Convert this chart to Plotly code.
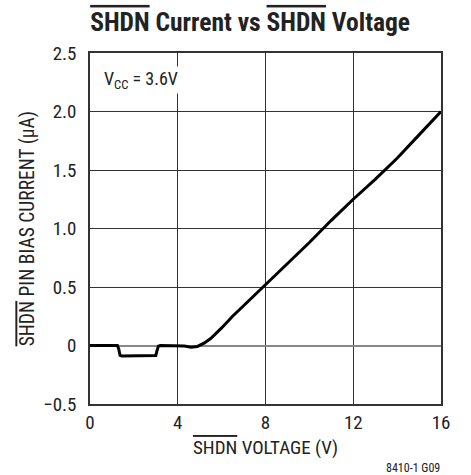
import plotly.graph_objects as go

voltage = [0, 1.25, 1.31, 1.37, 1.45, 2.9, 3.0, 3.06, 3.12, 3.2, 4.0, 4.3, 4.6, 4.9, 5.2, 5.5, 6.0, 6.5, 7.0, 8.0, 9.0, 10.0, 11.0, 12.0, 13.0, 14.0, 15.0, 16.0]
current = [0, 0, -0.03, -0.085, -0.09, -0.09, -0.085, -0.04, -0.005, 0, 0, -0.005, -0.015, -0.008, 0.02, 0.06, 0.15, 0.25, 0.34, 0.52, 0.7, 0.88, 1.07, 1.25, 1.42, 1.6, 1.8, 2.0]

x_ticks = [0, 4, 8, 12, 16]
x_ticktext = ["0", "4", "8", "12", "16"]
y_ticks = [-0.5, 0, 0.5, 1.0, 1.5, 2.0, 2.5]
y_ticktext = ["\u22120.5", "0", "0.5", "1.0", "1.5", "2.0", "2.5"]

FONT = "Roboto Condensed, Liberation Sans Narrow, sans-serif"
OL = '<span style="text-decoration:overline">SHDN</span>'

fig = go.Figure()
fig.add_trace(go.Scatter(x=voltage, y=current, mode="lines",
                         line=dict(color="black", width=3), showlegend=False,
                         hoverinfo="skip"))

fig.update_layout(
    width=471, height=475,
    margin=dict(l=90, r=30, t=53, b=71),
    paper_bgcolor="white", plot_bgcolor="white",
    hovermode=False,
    font=dict(family=FONT, size=19, color="#222"),
    title=dict(text="<b>" + OL + " Current vs " + OL + " Voltage</b>",
               x=0.531, xanchor="center", y=0.9537, yanchor="middle",
               font=dict(family=FONT, size=25.5, color="#222")),
    xaxis=dict(range=[0, 16], tickvals=x_ticks, ticktext=x_ticktext,
               showgrid=True, gridcolor="#333", gridwidth=1,
               showline=True, linecolor="#333", linewidth=1.5, mirror=True,
               zeroline=False, ticks="", automargin=False,
               ticklabelstandoff=0, tickfont=dict(size=19)),
    yaxis=dict(range=[-0.5, 2.5], tickvals=y_ticks, ticktext=y_ticktext,
               showgrid=True, gridcolor="#333", gridwidth=1,
               showline=True, linecolor="#333", linewidth=1.5, mirror=True,
               zeroline=True, zerolinecolor="#888", zerolinewidth=2, ticks="",
               automargin=False, ticklabelstandoff=8, tickfont=dict(size=19)),
)

# axis titles
fig.add_annotation(x=0.5, y=-0.125, xref="paper", yref="paper",
                   xanchor="center", yanchor="middle",
                   text=OL + " VOLTAGE (V)", showarrow=False,
                   font=dict(family=FONT, size=19, color="#222"))
fig.add_annotation(x=-0.177, y=0.5, xref="paper", yref="paper",
                   xanchor="center", yanchor="middle",
                   text=OL + " PIN BIAS CURRENT (\u00b5A)", showarrow=False,
                   textangle=-90,
                   font=dict(family=FONT, size=19.5, color="#222"))

fig.add_annotation(x=0.035, y=0.962, xref="paper", yref="paper",
                   text="V<sub>CC</sub> = 3.6V", showarrow=False,
                   xanchor="left", yanchor="top", bgcolor="white",
                   font=dict(family=FONT, size=18, color="#222"))
fig.add_annotation(x=1.003, y=-0.182, xref="paper", yref="paper",
                   text="8410-1 G09", showarrow=False,
                   xanchor="right", yanchor="middle",
                   font=dict(family=FONT, size=12, color="#222"))

fig.write_html("out.html", config={"displayModeBar": False},
               post_script="document.body.style.margin='0';")
